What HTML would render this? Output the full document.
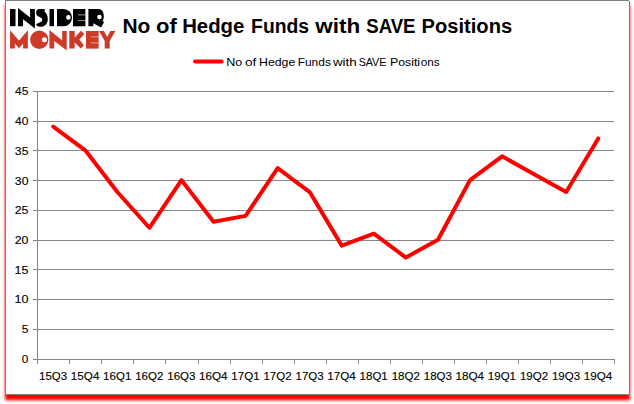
<!DOCTYPE html>
<html><head><meta charset="utf-8">
<style>
html,body{margin:0;padding:0;background:#fff;}
body{width:634px;height:404px;overflow:hidden;position:relative;font-family:"Liberation Sans",sans-serif;}
svg{position:absolute;left:0;top:0;display:block}
text{font-family:"Liberation Sans",sans-serif;fill:#000;}
.ax{font-size:11.5px;stroke:#000;stroke-width:0.12px;}
.ttl{font-size:20.7px;font-weight:bold;}
.lg{font-size:11.5px;}
</style></head><body>
<svg width="634" height="404" viewBox="0 0 634 404">
<defs>
<filter id="sh" x="-5%" y="-5%" width="110%" height="110%"><feGaussianBlur stdDeviation="1.6 1.5"/></filter>
</defs>
<rect x="0" y="0" width="634" height="404" fill="#fff"/>
<rect x="5" y="4.5" width="625" height="395.75" fill="#ff0000" filter="url(#sh)"/>
<rect x="5.5" y="0.5" width="624" height="394" fill="#fff" stroke="#7e7e7e" stroke-width="1"/>
<rect x="629" y="0" width="1" height="1" fill="#fff"/>
<g stroke="#868686" stroke-width="1" shape-rendering="crispEdges">
<line x1="33" y1="359.5" x2="615" y2="359.5"/>
<line x1="33" y1="329.5" x2="614" y2="329.5"/>
<line x1="33" y1="299.5" x2="614" y2="299.5"/>
<line x1="33" y1="269.5" x2="614" y2="269.5"/>
<line x1="33" y1="240.5" x2="614" y2="240.5"/>
<line x1="33" y1="210.5" x2="614" y2="210.5"/>
<line x1="33" y1="180.5" x2="614" y2="180.5"/>
<line x1="33" y1="150.5" x2="614" y2="150.5"/>
<line x1="33" y1="121.5" x2="614" y2="121.5"/>
<line x1="33" y1="91.5" x2="614" y2="91.5"/>
<line x1="37.5" y1="91" x2="37.5" y2="364"/>
<line x1="37.5" y1="359" x2="37.5" y2="364"/>
<line x1="69.5" y1="359" x2="69.5" y2="364"/>
<line x1="101.5" y1="359" x2="101.5" y2="364"/>
<line x1="133.5" y1="359" x2="133.5" y2="364"/>
<line x1="165.5" y1="359" x2="165.5" y2="364"/>
<line x1="198.5" y1="359" x2="198.5" y2="364"/>
<line x1="230.5" y1="359" x2="230.5" y2="364"/>
<line x1="262.5" y1="359" x2="262.5" y2="364"/>
<line x1="294.5" y1="359" x2="294.5" y2="364"/>
<line x1="326.5" y1="359" x2="326.5" y2="364"/>
<line x1="358.5" y1="359" x2="358.5" y2="364"/>
<line x1="390.5" y1="359" x2="390.5" y2="364"/>
<line x1="422.5" y1="359" x2="422.5" y2="364"/>
<line x1="454.5" y1="359" x2="454.5" y2="364"/>
<line x1="486.5" y1="359" x2="486.5" y2="364"/>
<line x1="518.5" y1="359" x2="518.5" y2="364"/>
<line x1="550.5" y1="359" x2="550.5" y2="364"/>
<line x1="582.5" y1="359" x2="582.5" y2="364"/>
<line x1="614.5" y1="359" x2="614.5" y2="364"/>
</g>
<polyline points="53.23,126.52 85.29,150.34 117.35,192.03 149.41,227.77 181.47,180.12 213.53,221.81 245.59,215.86 277.65,168.21 309.71,192.03 341.77,245.64 373.83,233.72 405.89,257.55 437.95,239.68 470.01,180.12 502.07,156.30 534.13,174.16 566.19,192.03 598.25,138.43" fill="none" stroke="#ff0000" stroke-width="4" stroke-linecap="round" stroke-linejoin="round"/>
<text x="21.89" y="363" class="ax" textLength="6.52" lengthAdjust="spacingAndGlyphs">0</text>
<text x="21.88" y="333" class="ax" textLength="6.67" lengthAdjust="spacingAndGlyphs">5</text>
<text x="14.44" y="303" class="ax" textLength="14.02" lengthAdjust="spacingAndGlyphs">10</text>
<text x="14.44" y="274" class="ax" textLength="14.02" lengthAdjust="spacingAndGlyphs">15</text>
<text x="14.73" y="244" class="ax" textLength="13.72" lengthAdjust="spacingAndGlyphs">20</text>
<text x="14.73" y="214" class="ax" textLength="13.72" lengthAdjust="spacingAndGlyphs">25</text>
<text x="14.87" y="185" class="ax" textLength="13.58" lengthAdjust="spacingAndGlyphs">30</text>
<text x="14.87" y="155" class="ax" textLength="13.58" lengthAdjust="spacingAndGlyphs">35</text>
<text x="15.14" y="125" class="ax" textLength="13.30" lengthAdjust="spacingAndGlyphs">40</text>
<text x="15.14" y="95" class="ax" textLength="13.30" lengthAdjust="spacingAndGlyphs">45</text>
<text x="39.00" y="380" class="ax" textLength="28.19" lengthAdjust="spacingAndGlyphs">15Q3</text>
<text x="70.80" y="380" class="ax" textLength="28.59" lengthAdjust="spacingAndGlyphs">15Q4</text>
<text x="103.12" y="380" class="ax" textLength="28.19" lengthAdjust="spacingAndGlyphs">16Q1</text>
<text x="135.18" y="380" class="ax" textLength="28.19" lengthAdjust="spacingAndGlyphs">16Q2</text>
<text x="167.24" y="380" class="ax" textLength="28.19" lengthAdjust="spacingAndGlyphs">16Q3</text>
<text x="199.04" y="380" class="ax" textLength="28.59" lengthAdjust="spacingAndGlyphs">16Q4</text>
<text x="231.36" y="380" class="ax" textLength="28.19" lengthAdjust="spacingAndGlyphs">17Q1</text>
<text x="263.42" y="380" class="ax" textLength="28.19" lengthAdjust="spacingAndGlyphs">17Q2</text>
<text x="295.48" y="380" class="ax" textLength="28.19" lengthAdjust="spacingAndGlyphs">17Q3</text>
<text x="327.28" y="380" class="ax" textLength="28.59" lengthAdjust="spacingAndGlyphs">17Q4</text>
<text x="359.60" y="380" class="ax" textLength="28.19" lengthAdjust="spacingAndGlyphs">18Q1</text>
<text x="391.66" y="380" class="ax" textLength="28.19" lengthAdjust="spacingAndGlyphs">18Q2</text>
<text x="423.72" y="380" class="ax" textLength="28.19" lengthAdjust="spacingAndGlyphs">18Q3</text>
<text x="455.52" y="380" class="ax" textLength="28.59" lengthAdjust="spacingAndGlyphs">18Q4</text>
<text x="487.84" y="380" class="ax" textLength="28.19" lengthAdjust="spacingAndGlyphs">19Q1</text>
<text x="519.90" y="380" class="ax" textLength="28.19" lengthAdjust="spacingAndGlyphs">19Q2</text>
<text x="551.96" y="380" class="ax" textLength="28.19" lengthAdjust="spacingAndGlyphs">19Q3</text>
<text x="583.76" y="380" class="ax" textLength="28.59" lengthAdjust="spacingAndGlyphs">19Q4</text>

<line x1="195" y1="61.6" x2="221.6" y2="61.6" stroke="#ff0000" stroke-width="4" stroke-linecap="round"/>
<text x="226.31" y="66" class="lg" textLength="15.98" lengthAdjust="spacingAndGlyphs">No</text>
<text x="244.91" y="66" class="lg" textLength="11.35" lengthAdjust="spacingAndGlyphs">of</text>
<text x="259.13" y="66" class="lg" textLength="36.12" lengthAdjust="spacingAndGlyphs">Hedge</text>
<text x="297.66" y="66" class="lg" textLength="33.23" lengthAdjust="spacingAndGlyphs">Funds</text>
<text x="332.90" y="66" class="lg" textLength="23.82" lengthAdjust="spacingAndGlyphs">with</text>
<text x="358.63" y="66" class="lg" textLength="27.79" lengthAdjust="spacingAndGlyphs">SAVE</text>
<text x="389.93" y="66" class="lg" textLength="30.18" lengthAdjust="spacingAndGlyphs">Positi</text>
<text x="420.84" y="66" class="lg" textLength="18.89" lengthAdjust="spacingAndGlyphs">ons</text>

<text x="122.41" y="32.85" class="ttl" textLength="27.93" lengthAdjust="spacingAndGlyphs">No</text>
<text x="156.00" y="32.85" class="ttl" textLength="20.73" lengthAdjust="spacingAndGlyphs">of</text>
<text x="182.15" y="32.85" class="ttl" textLength="62.17" lengthAdjust="spacingAndGlyphs">Hedge</text>
<text x="251.12" y="32.85" class="ttl" textLength="57.94" lengthAdjust="spacingAndGlyphs">Funds</text>
<text x="315.30" y="32.85" class="ttl" textLength="44.86" lengthAdjust="spacingAndGlyphs">with</text>
<text x="366.24" y="32.85" class="ttl" textLength="49.29" lengthAdjust="spacingAndGlyphs">SAVE</text>
<text x="421.56" y="32.85" class="ttl" textLength="90.57" lengthAdjust="spacingAndGlyphs">Positions</text>

<g id="logo">
<g fill="#000">
<rect x="10" y="9" width="5.5" height="17.2"/>
<polygon points="18,26.2 18,8.1 30.1,17.4 30.1,9 34.9,9 34.9,28.4 23.05,19.2 23.05,26.2"/>
<path d="M44.7,9.1 L39.5,9.1 C37.3,9.1 36.1,10.8 36.1,12.8 C36.1,14.6 37,15.9 38.6,16.6 L41,17.7 C42.4,18.3 42.6,20.8 41.5,21.5 L36.1,24.3 C36.3,25.6 37.8,26.8 40.5,26.8 C45,26.8 47.8,23.5 47.8,19.2 C47.8,15.5 46.3,13 44.7,11.8 Z"/>
<rect x="49.5" y="9" width="4.5" height="17.2"/>
<path fill-rule="evenodd" d="M57,9 L63.5,9 A8.55,8.6 0 0 1 63.5,26.2 L57,26.2 Z M70.7,17.4 A2.3,2.3 0 1 0 66.1,17.4 A2.3,2.3 0 1 0 70.7,17.4 Z"/>
<rect x="73" y="9" width="12.4" height="17.3"/>
<path fill-rule="evenodd" d="M88.4,9 L98.5,9 C101.8,9 103.8,12 103.8,16 C103.8,18.5 103.2,20.5 102.3,21.8 L104.4,21.4 L101.4,27.1 L100.6,27.2 L93.3,23.2 L93.3,26.3 L88.4,26.3 Z M101.7,17 A2.3,2.3 0 1 0 97.1,17 A2.3,2.3 0 1 0 101.7,17 Z"/>
</g>
<g stroke="#fff" stroke-width="0.6">
<line x1="78" y1="14.9" x2="85.4" y2="14.9"/><line x1="78" y1="20.6" x2="85.4" y2="20.6"/>
</g>
<g fill="#ce3a28">
<polygon points="10.05,48.4 10.05,30.3 19,40.4 27.9,30.3 27.9,48.4 23.1,48.4 23.1,43.6 19,48.2 14.9,43.6 14.9,48.4"/>
<path fill-rule="evenodd" d="M48.45,39.75 A9.2,9.2 0 1 0 30.05,39.75 A9.2,9.2 0 1 0 48.45,39.75 Z M46.9,39.7 A2.5,2.5 0 1 0 41.9,39.7 A2.5,2.5 0 1 0 46.9,39.7 Z"/>
<polygon points="49.4,48.4 49.4,30 62.2,40.4 62.2,31 66.7,31 66.7,50.4 54.25,41 54.25,48.4"/>
<polygon points="69.3,31 74.7,31 74.7,37.4 81,30.8 84.4,34 79.4,39.4 84,45.4 80.7,48.4 74.7,42.4 74.7,48.6 69.3,48.6"/>
<rect x="86" y="31" width="12.6" height="17.6"/>
<polygon points="99,31 104,31 107.2,37 110.4,31 115.4,31 109.7,41 109.7,48.4 104.7,48.4 104.7,41"/>
</g>
<g stroke="#fff" stroke-width="0.7" opacity="0.75">
<line x1="91" y1="36.9" x2="98.6" y2="36.9"/><line x1="91" y1="42.9" x2="98.6" y2="42.9"/>
</g>
</g>
</svg>
</body></html>
